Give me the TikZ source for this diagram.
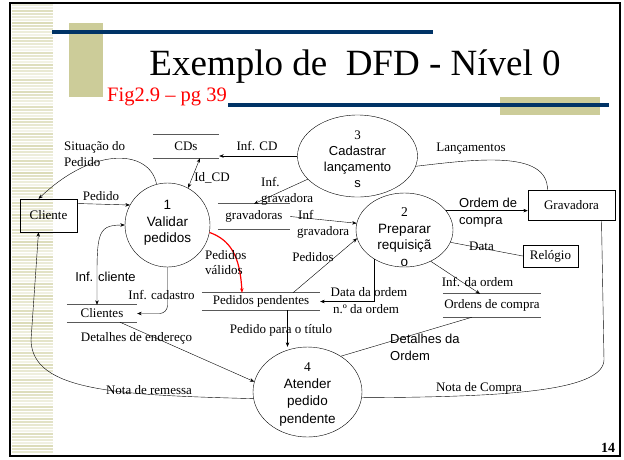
\documentclass[tikz,border=0pt]{standalone}
\usepackage{fontspec}
\setmainfont{Liberation Serif}
\setsansfont{Liberation Sans}
\usepackage{tikz}
\usetikzlibrary{positioning}
\usetikzlibrary{arrows.meta,shapes.geometric}

\definecolor{SlideKhaki}{HTML}{CCCC99}
\definecolor{SlideNavy}{HTML}{003366}

\tikzset{
	process/.style={draw, ellipse, inner sep=0pt},
	proctext/.style={align=center, inner sep=0pt, font=\sffamily\fontsize{13.5}{16.5}\selectfont},
	entity/.style={draw, rectangle, inner sep=0pt, font=\fontsize{13}{15}\selectfont},
	storeline/.style={draw=black!65, line width=1.1pt},
	datastore/.style={inner sep=0pt, font=\fontsize{13}{15}\selectfont,
		append after command={
			(\tikzlastnode.north west) edge[storeline] (\tikzlastnode.north east)
			(\tikzlastnode.south west) edge[storeline] (\tikzlastnode.south east)}},
	flowlabel/.style={inner sep=0pt, align=left, font=\fontsize{13}{16}\selectfont},
	sflowlabel/.style={inner sep=0pt, align=left, font=\sffamily\fontsize{13}{16.5}\selectfont},
	flow/.style={-{Stealth[length=4.5pt,width=3.5pt]}},
	dflow/.style={{Stealth[length=4.5pt,width=3.5pt]}-{Stealth[length=4.5pt,width=3.5pt]}},
}

\begin{document}
\begin{tikzpicture}[x=1pt, y=1pt]

	% ------------------------------------------------
	% Slide frame and decoration
	\useasboundingbox (0,0) rectangle (624,-459);
	\fill[white] (0,0) rectangle (624,-459);
	\foreach \y in {5,8,...,452} {
		\pgfmathtruncatemacro{\Shade}{20+mod(\y*13,50)}
		\draw[SlideKhaki!\Shade, line width=1.4pt] (12,-\y) -- (53,-\y);
	}
	\draw[line width=2pt] (10,-3) rectangle (620,-456);
	
	\fill[SlideKhaki] (69,-23) rectangle (103,-97);
	\fill[SlideKhaki] (500,-97) rectangle (600,-115);
	\draw[SlideNavy, line width=4.7pt] (52,-32) -- (433,-32);
	\draw[SlideNavy, line width=4.5pt] (228,-105) -- (609,-105);
	
	\node[anchor=base, inner sep=0pt, font=\fontsize{37}{40}\selectfont] (Title) at (355,-75) {Exemplo de~ DFD - Nível 0};
	\node[anchor=base west, inner sep=0pt, text=red, font=\fontsize{20.5}{22}\selectfont] (FigRef) at (107,-101) {Fig2.9 – pg 39};
	\node[inner sep=0pt, font=\bfseries\fontsize{14}{16}\selectfont] (PageNum) at (608,-448) {14};
	
	% ------------------------------------------------
	% Processes
	\node[process, minimum width=85pt, minimum height=84pt] (Proc1) at (167.5,-225) {};
	\node[process, minimum width=97pt, minimum height=74pt] (Proc2) at (404.5,-230) {};
	\node[process, minimum width=120pt, minimum height=82pt] (Proc3) at (357.5,-156) {};
	\node[process, minimum width=109pt, minimum height=90pt] (Proc4) at (307.5,-392) {};
	
	\node[proctext] (Proc1Text) at (167.5,-223) {1\\Validar\\pedidos};
	\node[proctext, font=\sffamily\fontsize{13.5}{16.7}\selectfont] (Proc2Text) at (404.5,-237) {{\rmfamily 2}\\Preparar\\requisiçã\\o};
	\node[proctext, font=\sffamily\fontsize{13}{16}\selectfont] (Proc3Text) at (357.5,-159) {{\rmfamily 3}\\Cadastrar\\lançamento\\s};
	\node[proctext, font=\sffamily\fontsize{13.5}{17.3}\selectfont] (Proc4Text) at (307.5,-394) {{\rmfamily 4}\\Atender\\pedido\\pendente};
	
	% ----------------
	% External entities
	\node[entity, minimum width=57pt, minimum height=33pt] (Cliente) at (48.5,-215.5) {Cliente};
	\node[entity, minimum width=87pt, minimum height=30pt] (Gravadora) at (571.5,-205) {Gravadora};
	\node[entity, minimum width=55pt, minimum height=22pt] (Relogio) at (550.5,-256) {Relógio};
	
	% ----------------
	% Data stores
	\node[datastore, minimum width=66pt, minimum height=23pt] (StoreCDs) at (186,-146.5) {CDs};
	\node[datastore, minimum width=72pt, minimum height=25pt] (StoreGrav) at (254,-216.5) {gravadoras};
	\node[datastore, minimum width=70pt, minimum height=17pt] (StoreCli) at (102,-313.5) {Clientes};
	\node[datastore, minimum width=118pt, minimum height=17pt] (StorePend) at (261,-301.5) {Pedidos pendentes};
	\node[datastore, minimum width=98pt, minimum height=23pt] (StoreOrd) at (492,-305.5) {Ordens de compra};
	
	% ------------------------------------------------
	% Data flows
	\draw[flow] (Proc1.105) .. controls (150,-150) and (95,-145) .. ([xshift=-10pt]Cliente.north);
	\draw[flow] ([yshift=12pt]Cliente.east) -- (Proc1.152);
	\draw[dflow] (Proc1.61) -- ([xshift=14pt]StoreCDs.south);
	\draw[flow] (Proc3.west) -- (Proc3.west -| StoreCDs.east);
	\draw[flow] (Proc3.205) -- (StoreGrav.north);
	\draw[flow] (StoreGrav.east) -- (Proc2.172);
	\draw[flow, red, line width=1.2pt] (Proc1.-10) .. controls (230,-240) and (240,-255) .. ([xshift=-19pt]StorePend.north);
	\draw[flow] ([xshift=32pt]StorePend.north) -- (Proc2.190);
	\draw[flow] (Proc2.224) |- (StorePend.east);
	\draw[flow] (Proc2.25) -- (Proc2.25 -| Gravadora.west);
	\draw (Relogio.west) -- (Proc2.-15);
	\draw[flow] (Proc2.-50) -- ([xshift=-12pt]StoreOrd.north);
	\draw ([xshift=-24pt]Gravadora.north) .. controls +(0,40) and +(60,7) .. (Proc3.-10);
	\draw[dflow] (Proc1.west) .. controls (95,-225) and (97,-235) .. ([xshift=-5pt]StoreCli.north);
	\draw[flow, rounded corners=8pt] (Proc1.south) |- (StoreCli.east);
	\draw[flow] ([xshift=18pt]StoreCli.south) -- (Proc4.169);
	\draw[flow] (Proc4.187) .. controls (120,-395) and (32,-392) .. (31,-340) -- ([xshift=-10pt]Cliente.south);
	\draw[flow] ([xshift=26.5pt]StorePend.south) -- ([xshift=-20pt]Proc4.north);
	\draw ([xshift=-20pt]StoreOrd.south) -- (Proc4.47);
	\draw (Proc4.-6) .. controls (500,-397) and (603,-392) .. (604,-360) -- ([xshift=30pt]Gravadora.south);
	
	% ----------------
	% Flow labels
	\node[flowlabel, anchor=west] (SitLabel) at (64,-154) {Situação do\\Pedido};
	\node[flowlabel] (PedLabel) at (101,-196) {Pedido};
	\node[flowlabel] (InfCDLabel) at (257,-146) {Inf. CD};
	\node[flowlabel] (IdLabel) at (212,-178) {Id\_CD};
	\node[flowlabel, anchor=west] (InfGravLabel) at (261,-191) {Inf.\\gravadora};
	\node[flowlabel, anchor=west] (InfGravTwoLabel) at (297,-224) {\hspace{1pt}Inf\\gravadora};
	\node[flowlabel, anchor=west, font=\fontsize{13}{15}\selectfont] (ValidLabel) at (205,-262.5) {Pedidos\\válidos};
	\node[flowlabel] (PedsLabel) at (313,-257) {Pedidos};
	\node[sflowlabel] (InfCliLabel) at (105.5,-277) {Inf. cliente};
	\node[flowlabel] (InfCadLabel) at (161.5,-295) {Inf. cadastro};
	\node[flowlabel] (DataOrdLabel) at (369,-292) {Data da ordem};
	\node[flowlabel] (NumOrdLabel) at (366,-309) {n.º da ordem};
	\node[flowlabel] (PedTitLabel) at (281,-330) {Pedido para o título};
	\node[flowlabel] (DetEndLabel) at (136.5,-338) {Detalhes de endereço};
	\node[sflowlabel, anchor=west] (OrdCompLabel) at (459,-212.5) {Ordem de\\compra};
	\node[flowlabel] (DataLabel) at (481.5,-246) {Data};
	\node[flowlabel] (InfOrdLabel) at (477.5,-282) {Inf. da ordem};
	\node[flowlabel] (LancLabel) at (471,-149) {Lançamentos};
	\node[sflowlabel, anchor=west] (DetOrdLabel) at (390,-347.5) {Detalhes da\\Ordem};
	\node[flowlabel] (NotaRemLabel) at (149,-390) {Nota de remessa};
	\node[flowlabel] (NotaCompLabel) at (479,-388) {Nota de Compra};

\end{tikzpicture}
\end{document}
